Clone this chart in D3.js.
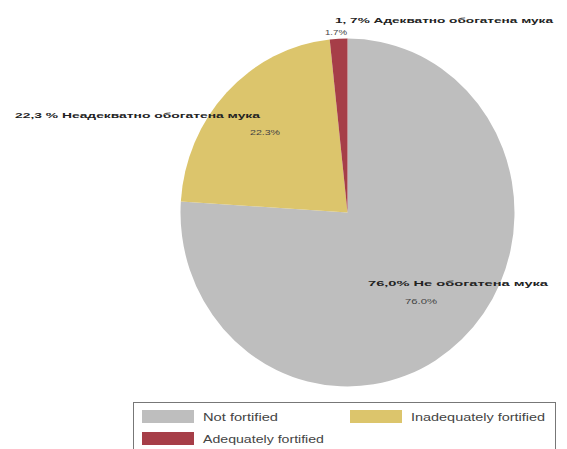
<!DOCTYPE html>
<html><head><meta charset="utf-8">
<script src="https://cdn.jsdelivr.net/npm/d3@7"></script>
<style>body{margin:0;background:#fff}svg{display:block}</style>
</head><body>
<svg id="c" width="567" height="449"></svg>
<script>
const categories = ["Not fortified", "Inadequately fortified", "Adequately fortified"];
const values = [76.0, 22.3, 1.7];
const outerLabels = ["76,0% Не обогатена мука", "22,3 % Неадекватно обогатена мука", "1, 7% Адекватно обогатена мука"];
const innerLabels = ["76.0%", "22.3%", "1.7%"];
const colors = ["#bebebe", "#dcc56c", "#a63e48"];

const svg = d3.select("#c");
const cx = 347.5, cy = 212.5, rx = 167, ry = 174;
const pie = d3.pie().sort(null).value(d => d)(values);
const arc = d3.arc().innerRadius(0).outerRadius(ry);
const g = svg.append("g").attr("transform", `translate(${cx},${cy}) scale(${rx / ry},1)`);
g.selectAll("path").data(pie).join("path")
  .attr("d", arc).attr("fill", (d, i) => colors[i]);

const font = "Liberation Sans, Arial, sans-serif";
// label layout: [x, y, width]
const outerPos = [[368, 286, 180], [15, 118, 245], [335, 23, 218]];
const innerPos = [[405, 304, 32], [250, 135, 30], [325, 35, 22]];
outerLabels.forEach((t, i) => {
  svg.append("text").attr("x", outerPos[i][0]).attr("y", outerPos[i][1])
    .attr("font-family", font).attr("font-size", 8)
    .attr("font-weight", "bold").attr("fill", "#222")
    .attr("textLength", outerPos[i][2]).attr("lengthAdjust", "spacingAndGlyphs").text(t);
});
innerLabels.forEach((t, i) => {
  svg.append("text").attr("x", innerPos[i][0]).attr("y", innerPos[i][1])
    .attr("font-family", font).attr("font-size", 8)
    .attr("fill", "#444")
    .attr("textLength", innerPos[i][2]).attr("lengthAdjust", "spacingAndGlyphs").text(t);
});

// legend
svg.append("rect").attr("x", 133.5).attr("y", 402.5).attr("width", 422).attr("height", 50)
  .attr("fill", "#fff").attr("stroke", "#777").attr("stroke-width", 1);
const legPos = [[142, 410, 75], [350, 410, 134], [142, 432, 121]];
categories.forEach((c, i) => {
  svg.append("rect").attr("x", legPos[i][0]).attr("y", legPos[i][1]).attr("width", 52).attr("height", 13)
    .attr("fill", colors[i]);
  svg.append("text").attr("x", legPos[i][0] + 61).attr("y", legPos[i][1] + 11)
    .attr("font-family", font).attr("font-size", 10.5)
    .attr("fill", "#444")
    .attr("textLength", legPos[i][2]).attr("lengthAdjust", "spacingAndGlyphs").text(c);
});
</script>
</body></html>
